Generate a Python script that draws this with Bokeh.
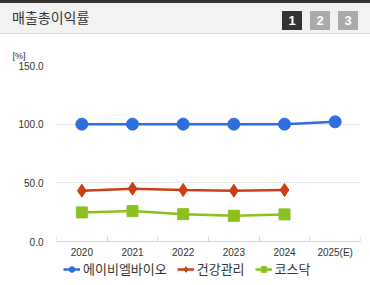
from bokeh.plotting import figure
from bokeh.models import (Div, Range1d, LinearAxis, FixedTicker, Legend, LegendItem,
                          PrintfTickFormatter)
from bokeh.layouts import column
from bokeh.embed import file_html
from bokeh.resources import INLINE

categories = ["2020", "2021", "2022", "2023", "2024", "2025(E)"]
abl_years = ["2020", "2021", "2022", "2023", "2024", "2025(E)"]
abl_values = [100.0, 100.0, 100.0, 100.0, 100.0, 102.0]
health_years = ["2020", "2021", "2022", "2023", "2024"]
health_values = [43.3, 45.0, 43.9, 43.3, 43.9]
kosdaq_years = ["2020", "2021", "2022", "2023", "2024"]
kosdaq_values = [24.8, 25.9, 23.3, 21.9, 23.1]
y_ticks = [0, 50, 100, 150]
title_text = "매출총이익률"
unit_text = "[%]"
series_names = ["에이비엘바이오", "건강관리", "코스닥"]

KR = "Noto Sans CJK KR"
NUM = "Liberation Sans"


def pos(years):
    return [categories.index(y) + 0.5 for y in years]


btn = ("position:absolute;top:8px;width:20px;height:19px;color:#fff;"
       "font-family:'Liberation Sans';font-weight:bold;font-size:13px;"
       "text-align:center;line-height:19px;")
header_html = f"""
<div style="position:relative;width:370px;height:34px;background:#f2f2f2;
border-top:3px solid #333;border-bottom:1px solid #dcdcdc;box-sizing:border-box;">
<span style="position:absolute;left:12px;top:4px;font-family:'{KR}';font-size:14px;color:#333;line-height:20px;">{title_text}</span>
<span style="{btn}left:282px;background:#333;">1</span>
<span style="{btn}left:310px;background:#aaa;">2</span>
<span style="{btn}left:338px;background:#aaa;">3</span>
</div>
"""
header = Div(text=header_html, width=370, height=34, margin=0)

# frame extends below zero so the legend can sit inside it, under the x axis
p = figure(frame_width=304, frame_height=220, x_range=Range1d(0, len(categories)),
           y_range=Range1d(-37.5, 150), output_backend="svg", toolbar_location=None,
           x_axis_location=None, min_border_left=56, min_border_right=10,
           min_border_top=31, min_border_bottom=0, margin=0)
p.outline_line_color = None
p.background_fill_color = "white"
p.border_fill_color = "white"

# unit label as title
p.title.text = unit_text
p.title.align = "left"
p.title.offset = -44
p.title.text_font = NUM
p.title.text_font_size = "9px"
p.title.text_font_style = "normal"
p.title.text_color = "#333333"
p.title.standoff = 10

# y axis
ya = p.yaxis[0]
ya.ticker = FixedTicker(ticks=y_ticks)
ya.formatter = PrintfTickFormatter(format="%.1f")
ya.axis_line_color = None
ya.major_tick_line_color = None
ya.minor_tick_line_color = None
ya.major_label_text_font = NUM
ya.major_label_text_font_size = "10px"
ya.major_label_text_color = "#333333"
ya.major_label_standoff = 7
p.ygrid.ticker = FixedTicker(ticks=y_ticks)
p.ygrid.grid_line_color = "#e6e6e6"
p.xgrid.grid_line_color = None

# category axis at y = 0: labels at centres, short inward ticks at category boundaries
centers = pos(categories)
bounds = list(range(len(categories) + 1))
ca = LinearAxis(ticker=FixedTicker(ticks=centers, minor_ticks=bounds),
                major_label_overrides={c: lab for c, lab in zip(centers, categories)},
                fixed_location=0)
ca.axis_line_color = "#ccd6eb"
ca.major_tick_line_color = None
ca.minor_tick_line_color = "#ccd6eb"
ca.minor_tick_in = 5
ca.minor_tick_out = 0
ca.major_tick_in = 0
ca.major_tick_out = 0
ca.major_label_text_font = NUM
ca.major_label_text_font_size = "10px"
ca.major_label_text_color = "#333333"
ca.major_label_standoff = 5
p.add_layout(ca, "below")

colors = ["#2d6fdd", "#cc3f14", "#8cc01f"]
items = []
l1 = p.line(pos(abl_years), abl_values, line_color=colors[0], line_width=2.5)
s1 = p.scatter(pos(abl_years), abl_values, marker="circle", size=12, fill_color=colors[0], line_color=colors[0])
items.append(LegendItem(label=series_names[0], renderers=[l1, s1]))
l2 = p.line(pos(health_years), health_values, line_color=colors[1], line_width=2.5)
s2 = p.scatter(pos(health_years), health_values, marker="diamond", size=13, fill_color=colors[1], line_color=colors[1])
items.append(LegendItem(label=series_names[1], renderers=[l2, s2]))
l3 = p.line(pos(kosdaq_years), kosdaq_values, line_color=colors[2], line_width=2.5)
s3 = p.scatter(pos(kosdaq_years), kosdaq_values, marker="square", size=11, fill_color=colors[2], line_color=colors[2])
items.append(LegendItem(label=series_names[2], renderers=[l3, s3]))

legend = Legend(items=items, orientation="horizontal", location=(7, 7),
                label_text_font=KR, label_text_font_size="13px", label_text_color="#333333",
                glyph_width=17, glyph_height=14, label_height=14, label_standoff=3,
                spacing=10, padding=0, margin=0, border_line_color=None,
                background_fill_alpha=0)
p.add_layout(legend)

layout = column(header, p, spacing=0, margin=0)
open("out.html", "w").write(file_html(layout, INLINE))
